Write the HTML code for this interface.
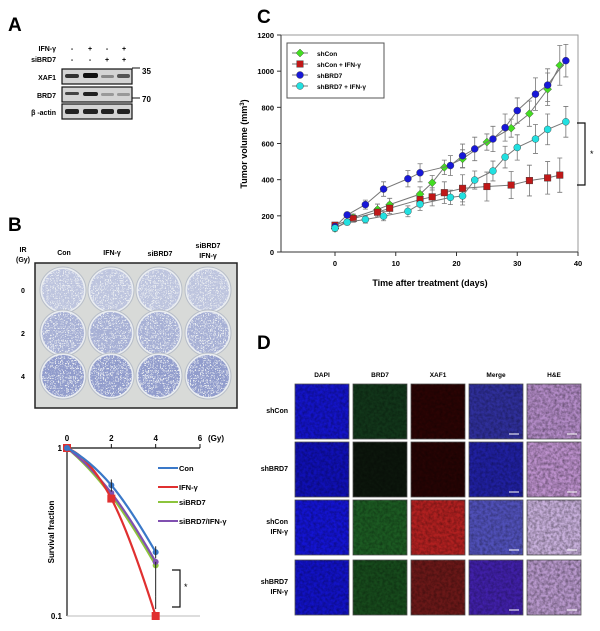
<!DOCTYPE html>
<html><head><meta charset="utf-8"><style>
body{margin:0;background:#fff;font-family:"Liberation Sans",Arial,sans-serif}
svg text{font-family:"Liberation Sans",Arial,sans-serif}
</style></head><body>
<svg id="fig" width="600" height="626" viewBox="0 0 600 626" xmlns="http://www.w3.org/2000/svg">
<defs>
<filter id="noise" x="0" y="0" width="100%" height="100%"><feTurbulence type="fractalNoise" baseFrequency="0.35" numOctaves="2" seed="3"/><feColorMatrix type="matrix" values="0 0 0 0 0  0 0 0 0 0  0 0 0 0 0  0 0 0 -1.6 1.1"/></filter>
<filter id="dots" x="0" y="0" width="100%" height="100%"><feTurbulence type="turbulence" baseFrequency="0.6" numOctaves="1" seed="7"/><feColorMatrix type="matrix" values="0 0 0 0 0.2  0 0 0 0 0.25  0 0 0 0 0.55  0 0 0 -6 2.2"/><feComposite in2="SourceGraphic" operator="in"/></filter>
</defs>
<text x="8" y="31" font-size="19" font-weight="bold">A</text>
<text x="8" y="231" font-size="19" font-weight="bold">B</text>
<text x="257" y="23" font-size="19" font-weight="bold">C</text>
<text x="257" y="349" font-size="19" font-weight="bold">D</text>

<g font-size="7" font-weight="bold">
<text x="56" y="51" text-anchor="end">IFN-γ</text>
<text x="56" y="62" text-anchor="end">siBRD7</text>
<text x="72" y="51" text-anchor="middle">-</text><text x="90" y="51" text-anchor="middle">+</text><text x="107" y="51" text-anchor="middle">-</text><text x="124" y="51" text-anchor="middle">+</text>
<text x="72" y="62" text-anchor="middle">-</text><text x="90" y="62" text-anchor="middle">-</text><text x="107" y="62" text-anchor="middle">+</text><text x="124" y="62" text-anchor="middle">+</text>
<text x="56" y="80" text-anchor="end">XAF1</text><text x="56" y="98" text-anchor="end">BRD7</text><text x="56" y="115" text-anchor="end">β -actin</text>
<rect x="62" y="69" width="70" height="15" fill="#d4d4d4" stroke="#111" stroke-width="1.2"/>
<rect x="62" y="87" width="70" height="15" fill="#d4d4d4" stroke="#111" stroke-width="1.2"/>
<rect x="62" y="104" width="70" height="15" fill="#d4d4d4" stroke="#111" stroke-width="1.2"/>
<rect x="65" y="74" width="14" height="4" rx="2" fill="#333"/><rect x="83" y="73" width="15" height="5" rx="2" fill="#111"/><rect x="101" y="75" width="13" height="3" rx="1.5" fill="#888"/><rect x="117" y="74" width="13" height="4" rx="2" fill="#555"/>
<rect x="65" y="92" width="14" height="3" rx="1.5" fill="#444"/><rect x="83" y="92" width="15" height="4" rx="2" fill="#222"/><rect x="101" y="93" width="13" height="3" rx="1.5" fill="#999"/><rect x="117" y="93" width="13" height="3" rx="1.5" fill="#999"/>
<rect x="65" y="109" width="14" height="5" rx="2" fill="#222"/><rect x="83" y="109" width="15" height="5" rx="2" fill="#222"/><rect x="101" y="109" width="13" height="5" rx="2" fill="#222"/><rect x="117" y="109" width="13" height="5" rx="2" fill="#222"/>
<line x1="132" y1="68" x2="140" y2="68" stroke="#111"/><text x="142" y="74" font-size="8">35</text>
<line x1="132" y1="98" x2="140" y2="98" stroke="#111"/><text x="142" y="102" font-size="8">70</text>
</g>

<g>
<text x="23" y="252" font-size="7" font-weight="bold" text-anchor="middle">IR</text>
<text x="23" y="262" font-size="7" font-weight="bold" text-anchor="middle">(Gy)</text>
<text x="64" y="255" font-size="7" font-weight="bold" text-anchor="middle">Con</text>
<text x="112" y="255" font-size="7" font-weight="bold" text-anchor="middle">IFN-γ</text>
<text x="160" y="256" font-size="7" font-weight="bold" text-anchor="middle">siBRD7</text>
<text x="208" y="248" font-size="7" font-weight="bold" text-anchor="middle">siBRD7</text>
<text x="208" y="258" font-size="7" font-weight="bold" text-anchor="middle">IFN-γ</text>
<text x="23" y="293" font-size="7" font-weight="bold" text-anchor="middle">0</text>
<text x="23" y="336" font-size="7" font-weight="bold" text-anchor="middle">2</text>
<text x="23" y="379" font-size="7" font-weight="bold" text-anchor="middle">4</text>
<rect x="35" y="263" width="202" height="145" fill="#d8dad8" stroke="#222" stroke-width="1.5"/>
<g id="wells"></g>
</g>

<g id="survival"></g>
<g id="tumor"></g>
<g id="imgs"></g>
</svg>
<script>
const NS='http://www.w3.org/2000/svg';
function mk(p,tag,attrs,txt){const e=document.createElementNS(NS,tag);for(const k in attrs)e.setAttribute(k,attrs[k]);if(txt!==undefined)e.textContent=txt;p.appendChild(e);return e;}

const wells=document.getElementById('wells');
const wellCols=[63,111,159,208], wellRows=[290,333,376];
wellRows.forEach((cy,r)=>wellCols.forEach((cx,c)=>{
  const w=mk(wells,'circle',{cx:cx,cy:cy,r:23,fill:'#eaedf1',stroke:'#b8bec8'});
  
  
  mk(wells,'circle',{cx:cx,cy:cy,r:21,fill:'#fff',filter:'url(#dots)',opacity:0.4+0.2*r});
}));

const survDoses=[0,2,4];
const survNames=['Con','IFN-γ','siBRD7','siBRD7/IFN-γ'];
const survCon=[1,0.6,0.24];
const survIfn=[1,0.5,0.1];
const survSi=[1,0.52,0.2];
const survSiIfn=[1,0.54,0.21];
const survColors=['#3a78c8','#e03030','#8cc43c','#8050b0'];
const survXTicks=[0,2,4,6];
(function(){
  const g=document.getElementById('survival');
  const X=v=>67+v*(200-67)/6;
  const Y=v=>448+(Math.log10(1)-Math.log10(v))*(616-448);
  mk(g,'line',{x1:X(0),y1:Y(1),x2:X(6),y2:Y(1),stroke:'#111','stroke-width':1.2});
  mk(g,'line',{x1:X(0),y1:Y(1),x2:X(0),y2:Y(0.1),stroke:'#111','stroke-width':1.2});
  mk(g,'line',{x1:X(0),y1:Y(0.1),x2:X(6),y2:Y(0.1),stroke:'#bbb','stroke-width':1});
  survXTicks.forEach(t=>{mk(g,'line',{x1:X(t),y1:Y(1),x2:X(t),y2:Y(1)-4,stroke:'#111'});
    const tt=mk(g,'text',{x:X(t),y:Y(1)-7,'font-size':8,'font-weight':'bold','text-anchor':'middle'},String(t));});
  mk(g,'text',{x:X(6)+8,y:Y(1)-7,'font-size':8,'font-weight':'bold'},'(Gy)');
  mk(g,'text',{x:62,y:Y(1)+3,'font-size':8,'font-weight':'bold','text-anchor':'end'},'1');
  mk(g,'text',{x:62,y:Y(0.1)+3,'font-size':8,'font-weight':'bold','text-anchor':'end'},'0.1');
  const yt=mk(g,'text',{transform:'translate(54,532) rotate(-90)','font-size':8,'font-weight':'bold','text-anchor':'middle'},'Survival  fraction');
  
  const series=[survCon,survIfn,survSi,survSiIfn];
  [2,3,1,0].forEach(i=>{
    const vals=series[i];
    const p=survDoses.map((d,k)=>[X(d),Y(vals[k])]);
    const m=(p[2][1]-p[0][1])/(p[2][0]-p[0][0]);
    const c1=[p[1][0]-(p[1][0]-p[0][0])*0.5,p[1][1]-m*(p[1][0]-p[0][0])*0.5];
    const c2=[p[1][0]+(p[2][0]-p[1][0])*0.4,p[1][1]+m*(p[2][0]-p[1][0])*0.4];
    const l=mk(g,'path',{d:`M${p[0]} Q${c1} ${p[1]} Q${c2} ${p[2]}`,fill:'none',stroke:survColors[i],'stroke-width':2.2});
    
    p.forEach(pt=>{const mkr=i==1?mk(g,'rect',{x:pt[0]-4,y:pt[1]-4,width:8,height:8,fill:survColors[i]}):mk(g,'circle',{cx:pt[0],cy:pt[1],r:3,fill:survColors[i]});
      });
  });
  [[2,0.6,0.05],[4,0.24,0.02],[4,0.17,0.04],[4,0.12,0.01]].forEach(e=>{
    mk(g,'line',{x1:X(e[0]),y1:Y(e[1]+e[2]),x2:X(e[0]),y2:Y(e[1]-e[2]),stroke:'#222'});});
  survNames.forEach((n,i)=>{const y=[468,487,502,521][i];
    const le=mk(g,'g',{});
    mk(le,'line',{x1:158,y1:y,x2:178,y2:y,stroke:survColors[i],'stroke-width':2});
    mk(le,'text',{x:179,y:y+3,'font-size':7.5,'font-weight':'bold'},n);});
  mk(g,'path',{d:'M172 570 H180 V607 H172',fill:'none',stroke:'#111','stroke-width':1.2});
  mk(g,'text',{x:184,y:590,'font-size':9},'*');
})();

const tNames=['shCon','shCon + IFN-γ','shBRD7','shBRD7 + IFN-γ'];
const tDaysA=[0,3,7,9,14,16,18,21,25,29,32,35,37];
const shCon=[130,190,235,262,320,383,468,515,608,685,765,900,1032];
const shConErr=[15,20,30,35,40,40,40,50,45,50,70,90,110];
const shConIfn=[148,185,220,242,290,305,328,352,362,370,395,410,425];
const shConIfnErr=[15,20,25,30,40,50,60,75,80,75,85,90,95];
const tDaysB=[0,2,5,8,12,14,19,21,23,26,28,30,33,35,38];
const shBrd=[140,205,262,348,405,438,478,532,570,625,688,782,873,923,1058];
const shBrdErr=[15,15,25,40,45,50,55,65,65,70,75,70,90,90,90];
const shBrdIfn=[132,165,180,198,225,265,302,310,398,448,525,578,625,678,720];
const shBrdIfnErr=[15,15,20,25,30,35,40,50,50,55,60,70,80,85,85];
const tYTicks=[0,200,400,600,800,1000,1200];
const tXTicks=[0,10,20,30,40];
(function(){
  const g=document.getElementById('tumor');
  const X=v=>335+v*(578-335)/40;
  const Y=v=>252-v*(252-35)/1200;
  mk(g,'rect',{x:281,y:35,width:297,height:217,fill:'none',stroke:'#999','stroke-width':1});
  mk(g,'line',{x1:281,y1:35,x2:281,y2:252,stroke:'#333'});
  mk(g,'line',{x1:281,y1:252,x2:578,y2:252,stroke:'#333'});
  tYTicks.forEach(t=>{mk(g,'line',{x1:281,y1:Y(t),x2:277,y2:Y(t),stroke:'#333'});
    const tt=mk(g,'text',{x:274,y:Y(t)+3,'font-size':7.5,'font-weight':'bold','text-anchor':'end'},String(t));});
  tXTicks.forEach(t=>{mk(g,'line',{x1:X(t),y1:252,x2:X(t),y2:256,stroke:'#333'});
    const tt=mk(g,'text',{x:X(t),y:266,'font-size':7.5,'font-weight':'bold','text-anchor':'middle'},String(t));});
  const xt=mk(g,'text',{x:430,y:286,'font-size':9,'font-weight':'bold','text-anchor':'middle'},'Time after treatment (days)');
  
  const yt=mk(g,'text',{transform:'translate(247,144) rotate(-90)','font-size':9,'font-weight':'bold','text-anchor':'middle'});
  yt.innerHTML='Tumor volume (mm<tspan font-size="6" dy="-3">3</tspan><tspan dy="3">)</tspan>';
  
  const series=[[tDaysA,shCon,shConErr,'#44dd22','diamond'],[tDaysA,shConIfn,shConIfnErr,'#c01818','square'],[tDaysB,shBrd,shBrdErr,'#1818d8','circle'],[tDaysB,shBrdIfn,shBrdIfnErr,'#22e0e0','circle']];
  series.forEach(s=>s[0].forEach((d,k)=>{mk(g,'path',{d:`M${X(d)} ${Y(s[1][k]+s[2][k])}V${Y(s[1][k]-s[2][k])}M${X(d)-2.5} ${Y(s[1][k]+s[2][k])}h5M${X(d)-2.5} ${Y(s[1][k]-s[2][k])}h5`,stroke:'#777','stroke-width':0.8,fill:'none'});}));
  function marker(p,type,x,y,col){let m;
    if(type=='diamond')m=mk(p,'path',{d:`M${x} ${y-4}L${x+4} ${y}L${x} ${y+4}L${x-4} ${y}Z`,fill:col,stroke:'#333','stroke-width':0.4});
    else if(type=='square')m=mk(p,'rect',{x:x-3.3,y:y-3.3,width:6.6,height:6.6,fill:col,stroke:'#333','stroke-width':0.4});
    else m=mk(p,'circle',{cx:x,cy:y,r:3.5,fill:col,stroke:'#333','stroke-width':0.4});
    return m;}
  series.forEach((s,i)=>{
    const l=mk(g,'polyline',{points:s[0].map((d,k)=>X(d)+','+Y(s[1][k])).join(' '),fill:'none',stroke:'#777','stroke-width':1});
    
    s[0].forEach((d,k)=>{const m=marker(g,s[4],X(d),Y(s[1][k]),s[3]);});
  });
  const lg=mk(g,'g',{});
  mk(lg,'rect',{x:287,y:43,width:97,height:55,fill:'#fff',stroke:'#555'});
  tNames.forEach((n,i)=>{const y=53+i*11;
    const le=mk(lg,'g',{});
    mk(le,'line',{x1:292,y1:y,x2:308,y2:y,stroke:'#777'});
    marker(le,series[i][4],300,y,series[i][3]);
    mk(le,'text',{x:317,y:y+3,'font-size':6.5,'font-weight':'bold'},n);});
  mk(g,'path',{d:'M577 123 H585 V185 H577',fill:'none',stroke:'#111','stroke-width':1.2});
  mk(g,'text',{x:590,y:157,'font-size':9},'*');
})();

(function(){
  const g=document.getElementById('imgs');
  const cols=['DAPI','BRD7','XAF1','Merge','H&E'];
  const colX=[295,353,411,469,527];
  const rowY=[384,442,500,560];
  const rows=[['shCon'],['shBRD7'],['shCon','IFN-γ'],['shBRD7','IFN-γ']];
  const fills=[
    ['#1414c8','#12361a','#2a0404','#2f2f9a','#b48cc8'],
    ['#1010b4','#0c160c','#260404','#2020a0','#bc90cc'],
    ['#1414d0','#1c5a22','#b02020','#5050b8','#c8b0dc'],
    ['#1212c4','#174a1c','#6a1818','#4020a8','#b898cc']];
  cols.forEach((c,i)=>{const t=mk(g,'text',{x:colX[i]+27,y:377,'font-size':6.5,'font-weight':'bold','text-anchor':'middle'},c);});
  rows.forEach((r,j)=>{
    r.forEach((line,k)=>{const t=mk(g,'text',{x:288,y:rowY[j]+29+(k-(r.length-1)/2)*10,'font-size':7,'font-weight':'bold','text-anchor':'end'},line);});
    colX.forEach((x,i)=>{
      const im=mk(g,'rect',{x:x,y:rowY[j],width:54,height:55,fill:fills[j][i],stroke:'#555','stroke-width':0.8});
      
      mk(g,'rect',{x:x,y:rowY[j],width:54,height:55,fill:i==4?'#fff':'#000',filter:'url(#noise)',opacity:i==4?0.45:0.35});
      if(i>=3)mk(g,'line',{x1:x+40,y1:rowY[j]+50,x2:x+50,y2:rowY[j]+50,stroke:'#fff','stroke-width':1});
    });
  });
})();
</script>
</body></html>
